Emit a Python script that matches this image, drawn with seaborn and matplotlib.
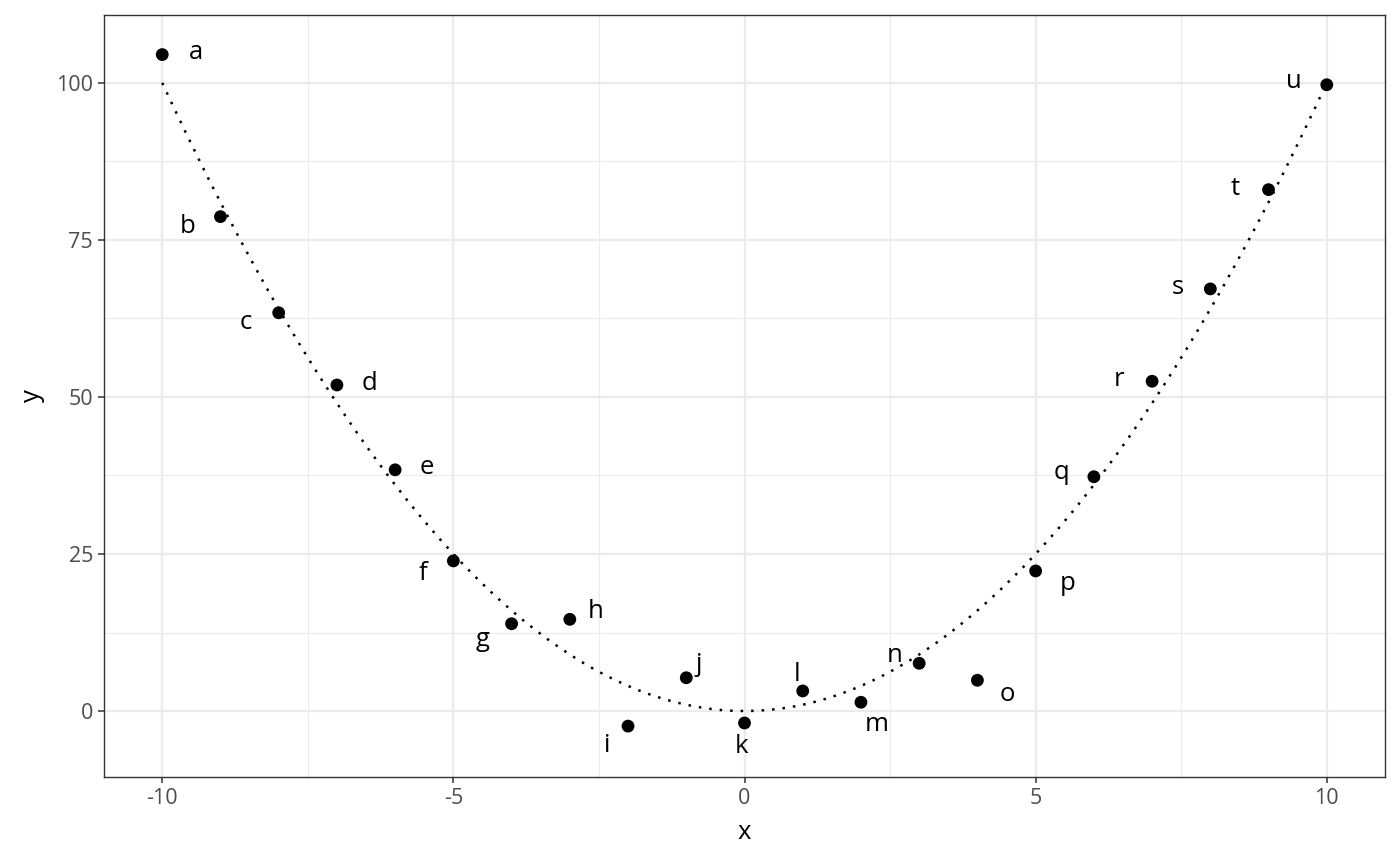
import numpy as np
import pandas as pd
import matplotlib
matplotlib.use('Agg')
import matplotlib.pyplot as plt
import seaborn as sns

# point data
labels = list('abcdefghijklmnopqrstu')
x_vals = [-10, -9, -8, -7, -6, -5, -4, -3, -2, -1, 0, 1, 2, 3, 4, 5, 6, 7, 8, 9, 10]
y_vals = [104.5, 78.7, 63.4, 51.9, 38.4, 23.9, 13.9, 14.6, -2.4, 5.3, -1.9,
          3.2, 1.4, 7.6, 4.9, 22.3, 37.3, 52.5, 67.2, 83.0, 99.7]

# label offsets (pixels, like ggrepel placed them)
label_dx = [34, -33, -33, 33, 32, -30, -29, 26, -21, 12, -3, -6, 16, -24, 30, 32, -32, -33, -33, -33, -33]
label_dy = [-5, 7, 7, -5, -5, 10, 13, -11, 16, -16, 21, -19, 19, -11, 11, 10, -7, -5, -4, -4, -6]

# reference curve y = x^2
curve_x = np.linspace(-10, 10, 101)
curve_y = curve_x ** 2

pts = pd.DataFrame({'x': x_vals, 'y': y_vals, 'label': labels})
curve = pd.DataFrame({'x': curve_x, 'y': curve_y})

sns.set_theme(style='white')
plt.rcParams['font.family'] = ['Open Sans', 'DejaVu Sans']
plt.rcParams['axes.unicode_minus'] = False

fig = plt.figure(figsize=(14, 8.66), dpi=100)
ax = fig.add_axes([104 / 1400, 1 - 777 / 866, (1385 - 104) / 1400, (777 - 15) / 866])

# grid like theme_bw
for v in [-7.5, -2.5, 2.5, 7.5]:
    ax.axvline(v, color='#EBEBEB', lw=0.8, zorder=0)
for v in [12.5, 37.5, 62.5, 87.5]:
    ax.axhline(v, color='#EBEBEB', lw=0.8, zorder=0)
for v in [-10, -5, 0, 5, 10]:
    ax.axvline(v, color='#EBEBEB', lw=1.6, zorder=0)
for v in [0, 25, 50, 75, 100]:
    ax.axhline(v, color='#EBEBEB', lw=1.6, zorder=0)

sns.lineplot(data=curve, x='x', y='y', ax=ax, color='black', lw=1.8,
             linestyle=(0, (1, 3.2)), zorder=2)
sns.scatterplot(data=pts, x='x', y='y', ax=ax, color='black', s=85,
                edgecolor='none', zorder=3)

for lab, xv, yv, dx, dy in zip(labels, x_vals, y_vals, label_dx, label_dy):
    ax.annotate(lab, (xv, yv), xytext=(dx * 0.72, -dy * 0.72), textcoords='offset points',
                ha='center', va='center_baseline', fontsize=18.5, color='black', zorder=4)

ax.set_xlim(-11, 11)
ax.set_ylim(-10.5, 110.8)
ax.set_xticks([-10, -5, 0, 5, 10])
ax.set_yticks([0, 25, 50, 75, 100])
ax.tick_params(axis='both', colors='#333333', labelcolor='#4D4D4D', labelsize=15.5,
               length=4, width=1.1, direction='out', bottom=True, left=True, pad=4)
for sp in ax.spines.values():
    sp.set_color('#333333')
    sp.set_linewidth(1.0)
ax.set_xlabel('x', fontsize=18.5, color='black', labelpad=8)
ax.set_ylabel('y', fontsize=18.5, color='black', labelpad=8)
ax.grid(False)

fig.savefig('out.png', dpi=100)
